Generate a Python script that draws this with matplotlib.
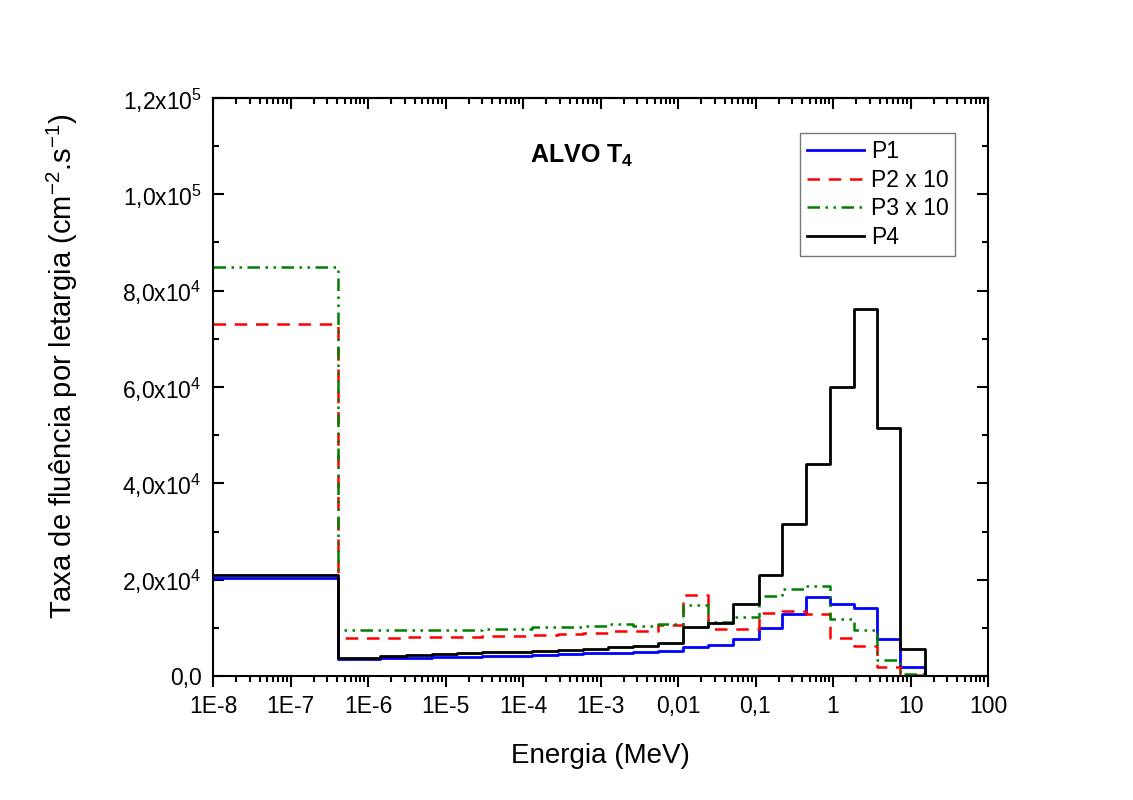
import matplotlib
matplotlib.use("Agg")
import matplotlib.pyplot as plt
import matplotlib.ticker as mticker
import numpy as np

# ---- data ----
energy_edges = [1e-8, 4.14e-7, 1.43e-6, 3.09e-6, 6.6e-6, 1.4e-5, 2.93e-5, 6.17e-5,
                1.32e-4, 2.8e-4, 6.0e-4, 1.26e-3, 2.66e-3, 5.57e-3, 1.15e-2, 2.45e-2,
                5.2e-2, 1.11e-1, 2.23e-1, 4.55e-1, 9.1e-1, 1.87, 3.7, 7.4, 15.3]
p1 = [20400, 3600, 3730, 3800, 3880, 3940, 4090, 4150, 4360, 4560, 4700, 4850,
      5000, 5150, 6020, 6370, 7580, 10000, 12950, 16500, 14880, 14190, 7760, 1870]
p2x10 = [73000, 7900, 7950, 8000, 8050, 8150, 8250, 8400, 8500, 8700, 8900, 9300,
         9400, 10500, 16740, 9830, 9830, 13070, 13420, 12800, 7970, 6160, 1800, 300]
p3x10 = [85000, 9600, 9500, 9450, 9450, 9550, 9700, 9800, 10100, 10200, 10300, 10700,
         10300, 10700, 14670, 11150, 12300, 16570, 18060, 18670, 11900, 9630, 3400, 400]
p4 = [20900, 3800, 4090, 4400, 4600, 4770, 4920, 5000, 5120, 5330, 5600, 5950,
      6160, 6930, 10200, 11100, 14950, 20900, 31600, 44100, 59900, 76200, 51500, 5600]

series_labels = ["P1", "P2 x 10", "P3 x 10", "P4"]
x_tick_values = [1e-8, 1e-7, 1e-6, 1e-5, 1e-4, 1e-3, 1e-2, 1e-1, 1, 10, 100]
x_tick_labels = ["1E-8", "1E-7", "1E-6", "1E-5", "1E-4", "1E-3", "0,01", "0,1", "1", "10", "100"]
y_tick_values = [0, 20000, 40000, 60000, 80000, 100000, 120000]
y_tick_labels = ["0,0", r"2,0x10$^{4}$", r"4,0x10$^{4}$", r"6,0x10$^{4}$",
                 r"8,0x10$^{4}$", r"1,0x10$^{5}$", r"1,2x10$^{5}$"]

plt.rcParams['font.family'] = ['Liberation Sans', 'DejaVu Sans']
plt.rcParams['mathtext.fontset'] = 'custom'
plt.rcParams['mathtext.rm'] = 'Liberation Sans'
plt.rcParams['mathtext.it'] = 'Liberation Sans:italic'
plt.rcParams['mathtext.bf'] = 'Liberation Sans:bold'

fig = plt.figure(figsize=(11.33, 8.0), dpi=100)
ax = fig.add_axes([213/1133, 1-676/800, 775/1133, 578/800])

styles = [
    dict(color="#0000ff", lw=2.0, ls="-"),
    dict(color="#ff0000", lw=1.8, ls=(0, (5, 3.5))),
    dict(color="#008000", lw=1.8, ls=(0, (5, 2.2, 1, 2.2, 1, 2.2))),
    dict(color="#000000", lw=2.0, ls="-"),
]
for vals, lab, st in zip([p1, p2x10, p3x10, p4], series_labels, styles):
    y = list(vals) + [0]
    ax.step(energy_edges, y, where="post", label=lab, **st)

ax.set_xscale("log")
ax.set_xlim(1e-8, 100)
ax.set_ylim(0, 120000)
ax.xaxis.set_major_locator(mticker.FixedLocator(x_tick_values))
ax.xaxis.set_major_formatter(mticker.FixedFormatter(x_tick_labels))
ax.xaxis.set_minor_locator(mticker.LogLocator(base=10, subs=np.arange(2, 10), numticks=100))
ax.xaxis.set_minor_formatter(mticker.NullFormatter())
ax.yaxis.set_major_locator(mticker.FixedLocator(y_tick_values))
ax.yaxis.set_major_formatter(mticker.FixedFormatter(y_tick_labels))
ax.yaxis.set_minor_locator(mticker.MultipleLocator(10000))

for s in ax.spines.values():
    s.set_linewidth(1.5)

ax.tick_params(axis="x", which="both", bottom=True, top=False, labelsize=16.5, width=1.5, pad=6)
ax.tick_params(axis="x", which="major", length=8)
ax.tick_params(axis="x", which="minor", length=4.5)
ax.tick_params(axis="x", which="both", direction="out")
ax.tick_params(axis="y", which="both", left=True, right=True, direction="in", labelsize=16.5, width=1.5, pad=8)
ax.tick_params(axis="y", which="major", length=8)
ax.tick_params(axis="y", which="minor", length=4.5)

# top ticks pointing inward
top = ax.secondary_xaxis("top")
top.xaxis.set_major_locator(mticker.FixedLocator(x_tick_values))
top.xaxis.set_minor_locator(mticker.LogLocator(base=10, subs=np.arange(2, 10), numticks=100))
top.xaxis.set_major_formatter(mticker.NullFormatter())
top.xaxis.set_minor_formatter(mticker.NullFormatter())
top.tick_params(axis="x", which="both", direction="in", width=1.5)
top.tick_params(axis="x", which="major", length=8)
top.tick_params(axis="x", which="minor", length=4.5)
top.spines["top"].set_linewidth(1.5)

ax.set_xlabel("Energia (MeV)", fontsize=20, labelpad=18)
ax.set_ylabel(r"Taxa de fluência por letargia (cm$^{-2}$.s$^{-1}$)", fontsize=21)
ax.yaxis.set_label_coords(-0.172, 0.535)

ax.text(0.409, 0.90, r"ALVO T$_{\mathbf{4}}$", transform=ax.transAxes, fontsize=18,
        fontweight="bold", ha="left", va="center")

leg = ax.legend(loc="upper left", bbox_to_anchor=(0.757, 0.939), fontsize=16.5,
                frameon=True, fancybox=False, borderpad=0.3, labelspacing=0.24,
                handlelength=2.5, handletextpad=0.3, borderaxespad=0)
leg.get_frame().set_edgecolor("#555555")
leg.get_frame().set_linewidth(1.0)

fig.savefig("out.png", dpi=100, facecolor="white")
